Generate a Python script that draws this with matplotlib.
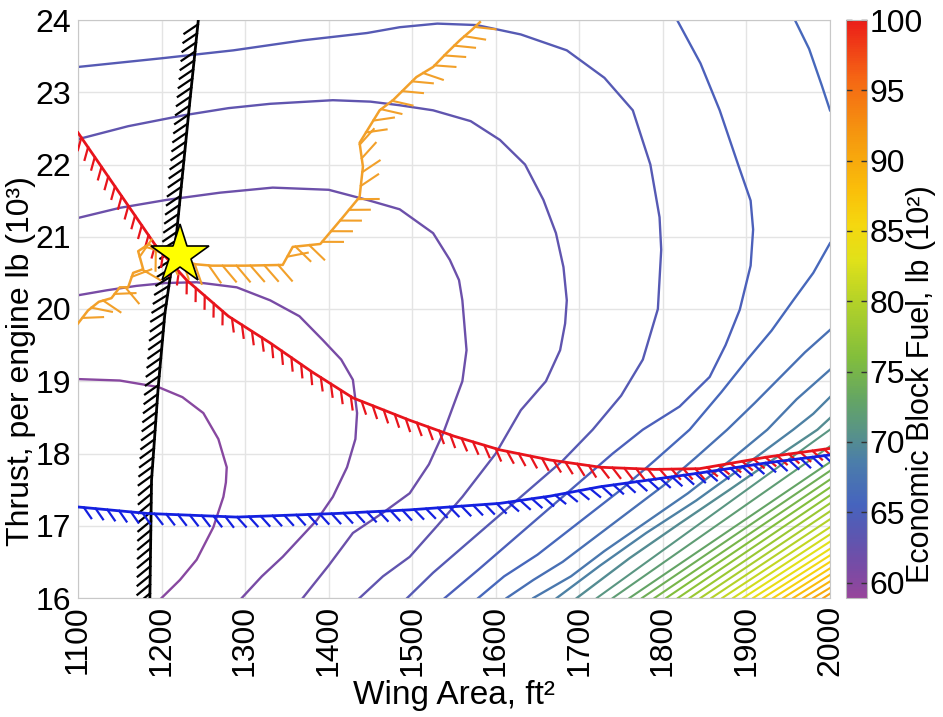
import matplotlib
matplotlib.use('Agg')
import matplotlib.pyplot as plt
import matplotlib.patheffects as pe
from matplotlib.colors import LinearSegmentedColormap, Normalize
from matplotlib.cm import ScalarMappable

plt.rcParams['font.family'] = ['Liberation Sans', 'DejaVu Sans']

# ---- axis ticks ----
area_ticks = [1100, 1200, 1300, 1400, 1500, 1600, 1700, 1800, 1900, 2000]
thrust_ticks = [16, 17, 18, 19, 20, 21, 22, 23, 24]
fuel_ticks = [60, 65, 70, 75, 80, 85, 90, 95, 100]
fuel_min, fuel_max = 58.9, 100.0

# ---- contour lines of economic block fuel (10^2 lb) ----
arc_levels = [60, 61, 62, 63, 64, 65, 66, 66, 67, 68, 69, 70]
arc_area = [
    [1100, 1150, 1196, 1225, 1250, 1268, 1278, 1277, 1274, 1262, 1242, 1222, 1200],
    [1100, 1135, 1170, 1205, 1242, 1290, 1330, 1365, 1393, 1415, 1429, 1434, 1432, 1422, 1405, 1386, 1345, 1320, 1296],
    [1100, 1150, 1206, 1270, 1333, 1400, 1446, 1485, 1525, 1545, 1556, 1560, 1565, 1560, 1537, 1520, 1497, 1465, 1429, 1400, 1369],
    [1100, 1160, 1226, 1280, 1330, 1405, 1450, 1485, 1525, 1570, 1605, 1635, 1657, 1672, 1681, 1685, 1683, 1677, 1660, 1630, 1600, 1560, 1530, 1497, 1465, 1437],
    [1100, 1150, 1200, 1286, 1370, 1446, 1485, 1530, 1577, 1630, 1685, 1730, 1764, 1785, 1796, 1798, 1794, 1776, 1750, 1716, 1680, 1640, 1600, 1560, 1525, 1494],
    [1817, 1845, 1868, 1890, 1905, 1908, 1905, 1892, 1875, 1856, 1820, 1776, 1740, 1700, 1660, 1620, 1580, 1539],
    [1958, 1975, 1990, 2000],
    [2000, 1980, 1956, 1930, 1901, 1870, 1832, 1790, 1750, 1700, 1650, 1610, 1579],
    [2000, 1970, 1940, 1910, 1877, 1840, 1800, 1760, 1720, 1680, 1645, 1613],
    [2000, 1960, 1925, 1880, 1830, 1780, 1730, 1690, 1645],
    [2000, 1980, 1956, 1900, 1840, 1780, 1725, 1673],
    [2000, 1985, 1940, 1880, 1820, 1760, 1697],
]
arc_thrust = [
    [19.03, 19.01, 18.92, 18.78, 18.56, 18.20, 17.81, 17.60, 17.40, 16.98, 16.53, 16.25, 16.00],
    [20.19, 20.26, 20.32, 20.36, 20.37, 20.30, 20.12, 19.90, 19.57, 19.30, 19.02, 18.56, 18.20, 17.81, 17.40, 17.08, 16.57, 16.30, 16.00],
    [21.26, 21.40, 21.51, 21.61, 21.68, 21.65, 21.51, 21.38, 21.05, 20.68, 20.40, 20.12, 19.43, 19.00, 18.28, 17.85, 17.45, 17.18, 16.90, 16.45, 16.00],
    [22.35, 22.53, 22.68, 22.78, 22.84, 22.89, 22.87, 22.82, 22.75, 22.60, 22.34, 22.00, 21.51, 21.05, 20.58, 20.12, 19.80, 19.43, 19.00, 18.60, 18.00, 17.40, 17.00, 16.57, 16.30, 16.00],
    [23.35, 23.41, 23.47, 23.58, 23.72, 23.82, 23.90, 23.95, 23.93, 23.80, 23.58, 23.20, 22.75, 22.00, 21.27, 20.82, 20.00, 19.30, 18.80, 18.33, 17.90, 17.50, 17.10, 16.70, 16.35, 16.00],
    [24.00, 23.40, 22.75, 22.00, 21.50, 21.10, 20.60, 19.99, 19.50, 19.06, 18.65, 18.33, 18.00, 17.60, 17.20, 16.80, 16.40, 16.00],
    [24.00, 23.60, 23.10, 22.75],
    [20.91, 20.50, 20.12, 19.70, 19.30, 18.85, 18.33, 17.90, 17.50, 17.05, 16.60, 16.30, 16.00],
    [19.71, 19.40, 19.05, 18.70, 18.33, 17.95, 17.55, 17.20, 16.85, 16.50, 16.25, 16.00],
    [19.16, 18.75, 18.33, 17.90, 17.45, 17.05, 16.65, 16.30, 16.00],
    [18.78, 18.55, 18.33, 17.85, 17.35, 16.90, 16.45, 16.00],
    [18.49, 18.33, 17.98, 17.50, 17.03, 16.55, 16.00],
]

# dense, nearly straight lines in the lower right corner:
# where each meets the bottom edge and where it meets the right edge (area 2000)
dense_levels = list(range(71, 92))
dense_bottom_area = [1721, 1740, 1760, 1775, 1790, 1804, 1818, 1832, 1845, 1858, 1871,
                     1884, 1896, 1908, 1920, 1932, 1944, 1956, 1968, 1980, 1992]
dense_right_thrust = [18.33, 18.10, 17.88, 17.76, 17.64, 17.53, 17.42, 17.31, 17.20, 17.09, 16.98,
                      16.88, 16.78, 16.68, 16.59, 16.50, 16.41, 16.32, 16.23, 16.14, 16.06]

# ---- constraint boundaries ----
black_area = [1186, 1188, 1196, 1204, 1218, 1234, 1244]
black_thrust = [16.0, 17.63, 18.92, 19.94, 21.05, 22.89, 24.0]

red_area = [1100, 1147, 1194, 1230, 1280, 1330, 1380, 1429, 1497, 1550, 1605, 1665, 1725, 1790, 1844, 1924, 2000]
red_thrust = [22.44, 21.65, 20.86, 20.40, 19.90, 19.53, 19.13, 18.77, 18.46, 18.24, 18.05, 17.91, 17.81, 17.78, 17.79, 17.95, 18.07]

blue_area = [1100, 1183, 1290, 1410, 1497, 1605, 1665, 1725, 1844, 1924, 2000]
blue_thrust = [17.26, 17.17, 17.12, 17.17, 17.22, 17.31, 17.41, 17.54, 17.73, 17.87, 17.98]

orange_area = [1100, 1112, 1125, 1140, 1150, 1160, 1166, 1178, 1172, 1185, 1195, 1205, 1222,
               1240, 1260, 1300, 1345, 1357, 1390, 1417, 1437, 1441, 1437, 1461, 1477, 1505,
               1525, 1541, 1557, 1571, 1581]
orange_thrust = [19.80, 19.98, 20.10, 20.15, 20.30, 20.30, 20.50, 20.55, 20.80, 20.90, 20.80,
                 20.75, 20.70, 20.62, 20.60, 20.60, 20.61, 20.86, 20.90, 21.27, 21.55, 21.97,
                 22.30, 22.75, 22.89, 23.21, 23.35, 23.54, 23.72, 23.86, 23.97]

optimum_area, optimum_thrust = 1222, 20.75

# colormap sampled from the colour bar
cmap = LinearSegmentedColormap.from_list('fuel', [
    (0.000, (150/255, 70/255, 155/255)),
    (0.051, (120/255, 75/255, 165/255)),
    (0.100, (95/255, 85/255, 175/255)),
    (0.160, (70/255, 100/255, 190/255)),
    (0.234, (75/255, 125/255, 170/255)),
    (0.294, (90/255, 150/255, 130/255)),
    (0.343, (100/255, 165/255, 100/255)),
    (0.416, (130/255, 190/255, 60/255)),
    (0.513, (180/255, 210/255, 40/255)),
    (0.586, (225/255, 225/255, 25/255)),
    (0.647, (245/255, 215/255, 15/255)),
    (0.708, (250/255, 190/255, 10/255)),
    (0.805, (245/255, 150/255, 15/255)),
    (0.903, (245/255, 100/255, 20/255)),
    (1.000, (235/255, 30/255, 25/255)),
])
norm = Normalize(fuel_min, fuel_max)

fig = plt.figure(figsize=(9.43, 7.17), dpi=100)
ax = fig.add_axes([78/943, 119/717, 752/943, 578/717])

for lev, s, t in zip(arc_levels, arc_area, arc_thrust):
    ax.plot(s, t, color=cmap(norm(lev)), lw=1.7, zorder=2, solid_joinstyle='round')
for lev, b, r in zip(dense_levels, dense_bottom_area, dense_right_thrust):
    ax.plot([b, 2000], [16, r], color=cmap(norm(lev)), lw=1.5, zorder=2)

# constraints with hatching on the infeasible side
ax.plot(black_area, black_thrust, color='black', lw=2, zorder=4,
        path_effects=[pe.withTickedStroke(angle=130, spacing=6.5, length=1.8, linewidth=1.6)])
ax.plot(red_area, red_thrust, color='#e8141c', lw=2, zorder=4,
        path_effects=[pe.withTickedStroke(angle=-50, spacing=8.5, length=1.1, linewidth=1.6)])
ax.plot(blue_area, blue_thrust, color='#1420e0', lw=2, zorder=4,
        path_effects=[pe.withTickedStroke(angle=-50, spacing=8.5, length=1.1, linewidth=1.6)])
ax.plot(orange_area, orange_thrust, color='#f2a02a', lw=1.8, zorder=5,
        path_effects=[pe.withTickedStroke(angle=-50, spacing=10, length=1.5, linewidth=1.5)])

ax.plot(optimum_area, optimum_thrust, marker='*', ms=44, mfc='#ffff00', mec='black',
        mew=1.2, zorder=10)

ax.set_xlim(1100, 2000)
ax.set_ylim(16, 24)
ax.set_xticks(area_ticks)
ax.set_xticklabels([str(v) for v in area_ticks], rotation=90)
ax.set_yticks(thrust_ticks)
ax.tick_params(length=0, labelsize=23, pad=5)
ax.grid(True, color='#e4e4e4', lw=1)
ax.set_axisbelow(True)
for sp in ax.spines.values():
    sp.set_color('#c8c8c8')

ax.set_xlabel('Wing Area, ft²', fontsize=24)
ax.xaxis.set_label_coords(0.5, -0.142)
ax.set_ylabel('Thrust, per engine lb (10³)', fontsize=23)
ax.yaxis.set_label_coords(-0.056, 0.41)

cax = fig.add_axes([846/943, 119/717, 21/943, 578/717])
cb = fig.colorbar(ScalarMappable(norm=norm, cmap=cmap), cax=cax)
cb.set_ticks(fuel_ticks)
cb.outline.set_edgecolor('#bbbbbb')
cax.tick_params(direction='in', left=True, right=True, length=4, width=1,
                color='#333333', labelsize=23, pad=2)
cb.set_label('Economic Block Fuel, lb (10²)', fontsize=22)
cax.yaxis.set_label_coords(2.88, 0.37)

fig.savefig('out.png', dpi=100)
